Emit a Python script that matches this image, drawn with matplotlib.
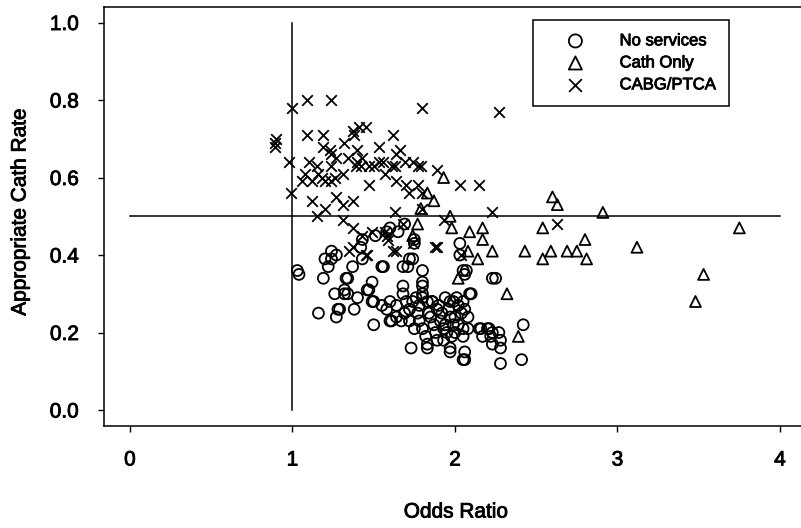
import matplotlib.pyplot as plt
import matplotlib.patheffects as pe
import numpy as np

plt.rcParams["font.family"] = ["Liberation Sans", "DejaVu Sans"]

# hospitals with no cath services
none_or = [1.03, 1.04, 1.16, 1.19, 1.22, 1.24, 1.27, 1.26, 1.27, 1.28, 1.33, 1.32, 1.32, 1.38, 1.40,
           1.37, 1.43, 1.42, 1.43, 1.46, 1.49, 1.50, 1.50, 1.56, 1.60, 1.58, 1.60, 1.64, 1.64, 1.60,
           1.65, 1.68, 1.68, 1.68, 1.70, 1.72, 1.67, 1.72, 1.74, 1.74, 1.75, 1.80, 1.80, 1.80, 1.83,
           1.77, 1.75, 1.73, 1.78, 1.80, 1.85, 1.86, 1.83, 1.89, 1.91, 1.93, 1.88, 1.97, 1.97, 1.95,
           1.97, 1.99, 2.02, 2.01, 2.06, 2.05, 2.05, 2.06, 2.05, 2.03, 2.05, 2.06, 2.10, 2.08, 2.15,
           2.20, 2.17, 2.22, 2.27, 2.28, 2.28, 2.28, 2.23, 2.42, 2.41, 2.03, 1.24, 1.20, 1.55, 1.75,
           1.72, 2.07, 1.71, 2.25, 2.09, 2.06, 1.83, 1.97, 2.16, 2.21, 2.23, 2.23, 1.80, 1.80, 1.86,
           1.99, 2.05, 1.29, 1.34, 1.47, 1.49, 1.55, 1.61, 1.34, 1.69, 1.58, 1.51, 1.90, 1.92, 1.94,
           1.96, 1.98, 2.00, 2.00, 2.02, 1.87, 1.89, 1.93, 2.04, 2.08, 1.84, 1.82, 1.94, 1.76, 1.69,
           1.78]
none_rate = [0.36, 0.35, 0.25, 0.34, 0.37, 0.39, 0.40, 0.30, 0.24, 0.26, 0.34, 0.31, 0.30, 0.26, 0.29,
             0.37, 0.39, 0.42, 0.44, 0.31, 0.33, 0.28, 0.22, 0.37, 0.28, 0.26, 0.23, 0.27, 0.24, 0.47,
             0.46, 0.37, 0.32, 0.30, 0.28, 0.26, 0.23, 0.23, 0.28, 0.39, 0.43, 0.36, 0.33, 0.30, 0.28,
             0.25, 0.21, 0.16, 0.23, 0.21, 0.24, 0.28, 0.16, 0.26, 0.23, 0.21, 0.20, 0.28, 0.24, 0.20,
             0.16, 0.22, 0.27, 0.29, 0.26, 0.21, 0.19, 0.15, 0.13, 0.43, 0.36, 0.35, 0.30, 0.21, 0.21,
             0.21, 0.19, 0.19, 0.20, 0.18, 0.16, 0.12, 0.34, 0.22, 0.13, 0.40, 0.41, 0.39, 0.37, 0.44,
             0.39, 0.36, 0.37, 0.34, 0.30, 0.13, 0.17, 0.15, 0.21, 0.21, 0.20, 0.17, 0.32, 0.29, 0.28,
             0.28, 0.28, 0.26, 0.30, 0.31, 0.28, 0.27, 0.23, 0.34, 0.48, 0.46, 0.45, 0.27, 0.25, 0.22,
             0.26, 0.19, 0.24, 0.20, 0.22, 0.22, 0.18, 0.18, 0.25, 0.24, 0.25, 0.19, 0.29, 0.29, 0.25,
             0.27]

# cath lab only
cath_or = [1.93, 1.83, 1.87, 1.79, 1.97, 1.77, 1.98, 2.09, 2.17, 2.17, 1.74, 2.23, 2.43, 2.54, 2.54,
           2.08, 2.14, 2.02, 2.32, 2.39, 2.59, 2.69, 2.75, 2.80, 2.81, 2.91, 3.12, 3.53, 3.48, 3.75,
           2.63, 2.60]
cath_rate = [0.60, 0.56, 0.54, 0.52, 0.50, 0.48, 0.47, 0.46, 0.47, 0.44, 0.45, 0.41, 0.41, 0.47, 0.39,
             0.41, 0.39, 0.34, 0.30, 0.19, 0.41, 0.41, 0.41, 0.44, 0.39, 0.51, 0.42, 0.35, 0.28, 0.47,
             0.53, 0.55]

# CABG/PTCA hospitals
cabg_or = [1.00, 1.09, 1.24, 1.80, 2.27, 0.89, 0.90, 0.89, 1.09, 1.19, 1.37, 1.38, 1.41, 1.45, 1.62,
           1.53, 1.64, 0.98, 1.10, 1.23, 1.24, 1.32, 1.19, 1.40, 1.43, 1.08, 1.16, 1.24, 1.31, 1.39,
           1.47, 1.53, 1.57, 1.63, 1.06, 1.12, 1.20, 1.26, 0.99, 1.12, 1.20, 1.15, 1.27, 1.31, 1.37,
           1.47, 1.63, 1.31, 1.37, 1.43, 1.37, 1.45, 1.49, 1.57, 1.59, 1.62, 1.24, 2.03, 2.15, 1.80,
           2.23, 1.93, 1.88, 1.89, 2.04, 1.74, 1.77, 1.68, 1.77, 1.89, 1.66, 1.15, 1.18, 1.27, 1.34,
           1.40, 1.42, 1.50, 1.56, 1.61, 1.74, 1.79, 1.58, 1.64, 1.35, 1.46, 1.69, 1.72, 1.80, 2.63,
           1.64, 1.70]
cabg_rate = [0.78, 0.80, 0.80, 0.78, 0.77, 0.69, 0.70, 0.68, 0.71, 0.71, 0.72, 0.71, 0.73, 0.73, 0.71,
             0.68, 0.66, 0.64, 0.64, 0.67, 0.66, 0.69, 0.68, 0.67, 0.65, 0.61, 0.61, 0.63, 0.61, 0.63,
             0.63, 0.64, 0.61, 0.63, 0.59, 0.59, 0.59, 0.60, 0.56, 0.54, 0.52, 0.50, 0.55, 0.53, 0.54,
             0.58, 0.51, 0.49, 0.47, 0.45, 0.42, 0.40, 0.46, 0.46, 0.44, 0.41, 0.59, 0.58, 0.58, 0.52,
             0.51, 0.49, 0.42, 0.42, 0.40, 0.43, 0.58, 0.48, 0.63, 0.62, 0.67, 0.63, 0.60, 0.65, 0.65,
             0.64, 0.63, 0.63, 0.64, 0.63, 0.64, 0.63, 0.45, 0.41, 0.41, 0.40, 0.64, 0.56, 0.56, 0.48,
             0.59, 0.58]

fig = plt.figure(figsize=(8.01, 5.28), dpi=100)
ax = fig.add_axes([0.1298, 0.1941, 0.8764, 0.7926])

mk = dict(facecolors="none", edgecolors="black", linewidths=1.3)
ax.scatter(none_or, none_rate, marker="o", s=62, label="No services", **mk)
ax.scatter(cath_or, cath_rate, marker="^", s=62, label="Cath Only", **mk)
ax.scatter(cabg_or, cabg_rate, marker="x", s=58, color="black", linewidths=1.3, label="CABG/PTCA")

# reference lines at OR = 1 and rate = 0.5
ax.plot([1, 1], [0, 1], color="black", lw=1.1)
ax.plot([0, 4], [0.5, 0.5], color="black", lw=1.1)

ax.set_xlim(-0.16, 4.16)
ax.set_ylim(-0.04, 1.04)
ax.set_xticks([0, 1, 2, 3, 4])
ax.set_yticks(np.arange(0, 1.01, 0.2))
ax.set_yticklabels(["0.0", "0.2", "0.4", "0.6", "0.8", "1.0"])
ax.tick_params(direction="out", length=4.5, width=1, labelsize=15, colors="black", pad=13.5)
for s in ax.spines.values():
    s.set_linewidth(1.1)

# thicken the lettering a little
bold = [pe.withStroke(linewidth=0.6, foreground="black")]
for t in ax.get_xticklabels() + ax.get_yticklabels():
    t.set_path_effects(bold)

fig.text(20 / 801, 1 - 212 / 528, "Appropriate Cath Rate", rotation=90,
         ha="center", va="center", fontsize=15, path_effects=bold)
fig.text(456 / 801, 1 - 512 / 528, "Odds Ratio", ha="center", va="center",
         fontsize=15, path_effects=bold)

leg = ax.legend(loc="upper left", bbox_to_anchor=(0.611, 0.969), fontsize=12,
                frameon=True, fancybox=False, edgecolor="black", framealpha=1,
                borderpad=0.8, handlelength=3.5, handletextpad=0.9, labelspacing=0.42,
                borderaxespad=0, scatterpoints=1, markerscale=1.2)
leg.get_frame().set_linewidth(1.1)
for t in leg.get_texts():
    t.set_path_effects(bold)

fig.savefig("out.png", dpi=100)
